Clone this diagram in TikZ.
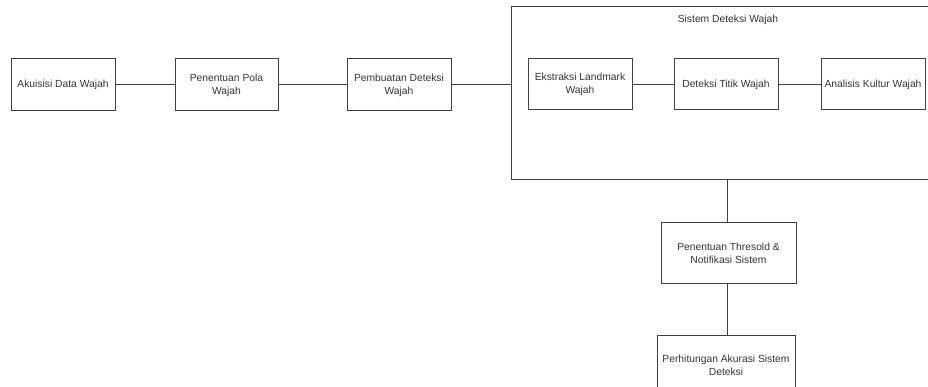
\documentclass[tikz,border=0pt]{standalone}
\usepackage{fontspec}
\setmainfont{Liberation Sans}
\begin{document}
\begin{tikzpicture}[x=1pt,y=-1pt,
    blok/.style={draw=black!75, line width=1pt, inner sep=0pt, align=center, text=black!80,
        minimum width=104, minimum height=52, font=\fontsize{10.3}{13}\selectfont},
    garis/.style={draw=black!75, line width=1pt}]
    \useasboundingbox (0,0) rectangle (928,387);

    \node[blok] (akuisisi) at (63,85) {Akuisisi Data Wajah};
    \node[blok, minimum width=103] (pola) at (226.5,85) {Penentuan Pola\\Wajah};
    \node[blok] (pembuatan) at (399,85) {Pembuatan Deteksi\\Wajah};

    \node[blok, minimum width=429, minimum height=173] (sistem) at (725.5,93.5) {}; % kotak sistem
    \node[text=black!80, font=\fontsize{10.3}{13}\selectfont] (judul) at (728,20) {Sistem Deteksi Wajah};
    \node[blok, minimum height=51] (landmark) at (580,84.5) {Ekstraksi Landmark\\Wajah};
    \node[blok, minimum height=51] (titik) at (726,84.5) {Deteksi Titik Wajah};
    \node[blok, minimum height=51] (kultur) at (873,84.5) {Analisis Kultur Wajah};

    \node[blok, minimum width=135, minimum height=60] (thresold) at (728.5,253) {Penentuan Thresold \&\\Notifikasi Sistem};
    \node[blok, minimum width=138, minimum height=60] (akurasi) at (726,365) {Perhitungan Akurasi Sistem\\Deteksi};

    \draw[garis] (akuisisi) -- (pola);
    \draw[garis] (pola) -- (pembuatan);
    \draw[garis] (pembuatan.east) -- (pembuatan.east -| sistem.west);
    \draw[garis] (landmark) -- (titik);
    \draw[garis] (titik) -- (kultur);
    \draw[garis] (thresold.north -| 727,0) -- (sistem.south -| 727,0);
    \draw[garis] (thresold.south -| 727,0) -- (akurasi.north -| 727,0);
\end{tikzpicture}
\end{document}
